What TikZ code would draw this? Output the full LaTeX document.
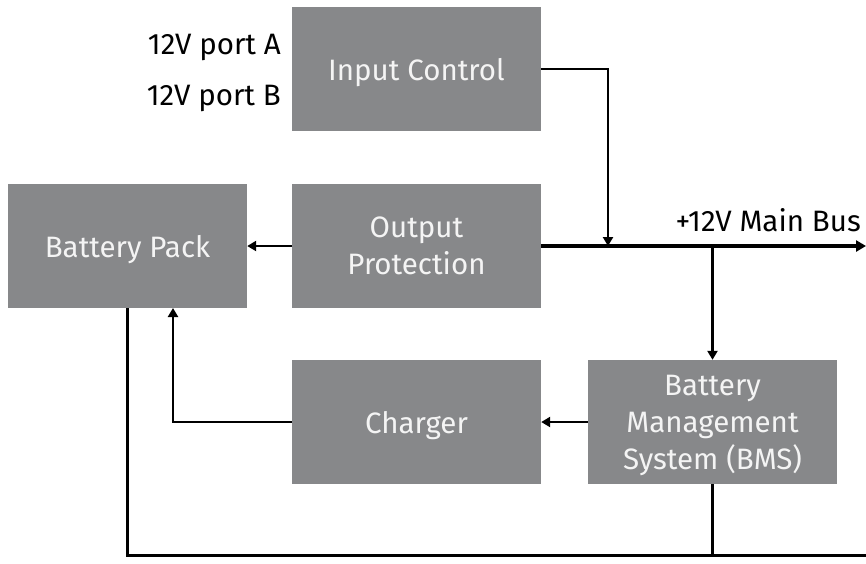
\documentclass[tikz,border=0pt]{standalone}
\usepackage{fontspec}
\setmainfont{Fira Sans}
\usetikzlibrary{arrows.meta}
\definecolor{BPGray}{HTML}{87888A}
\definecolor{BPText}{HTML}{F4F4F4}
\tikzset{
  block/.style={fill=BPGray,text=BPText,minimum width=249pt,minimum height=124pt,
    inner sep=0pt,align=center,text depth=0pt,font=\fontsize{29.5}{37}\selectfont},
  label/.style={font=\fontsize{29.5}{32}\selectfont,inner sep=0pt},
  link/.style={line width=2.6pt,-{Triangle[length=9pt,width=10pt]}},
  wire/.style={line width=3pt},
  bus/.style={line width=3.6pt,-{Triangle[length=10pt,width=11pt]}}
}
\begin{document}
\begin{tikzpicture}[x=1pt,y=-1pt]
\path[use as bounding box] (0,0) rectangle (866,563);
% blocks
\node[block] (inctl) at (416.5,69) {Input Control};
\node[block] (outprot) at (416.5,246) {Output\\Protection};
\node[block,minimum width=239pt] (batt) at (127.5,246) {Battery Pack};
\node[block] (chg) at (416.5,422) {Charger};
\node[block] (bms) at (712.5,422) {Battery\\Management\\System (BMS)};
% texts
\node[label,anchor=east] (porta) at (281,47) {12V port A};
\node[label,anchor=east] (portb) at (281,98) {12V port B};
\coordinate (busend) at (866,246);
\coordinate (busjoin) at (608,246);
\coordinate (battin) at (173,308);
\coordinate (gndend) at (866,555);
\node[label,anchor=south east] (buslbl) at (861,232) {+12V Main Bus};
% connectors
\draw[bus] (outprot.east) -- (busend);
\draw[link] (inctl.east) -| (busjoin);
\draw[link] (bms.north |- busend) -- (bms.north);
\draw[link] (outprot.west) -- (batt.east);
\draw[link] (bms.west) -- (chg.east);
\draw[link] (chg.west) -| (battin);
\draw[wire] (batt.south) |- (gndend);
\draw[line width=2.6pt] (bms.south) -- (bms.south |- gndend);
\end{tikzpicture}
\end{document}
